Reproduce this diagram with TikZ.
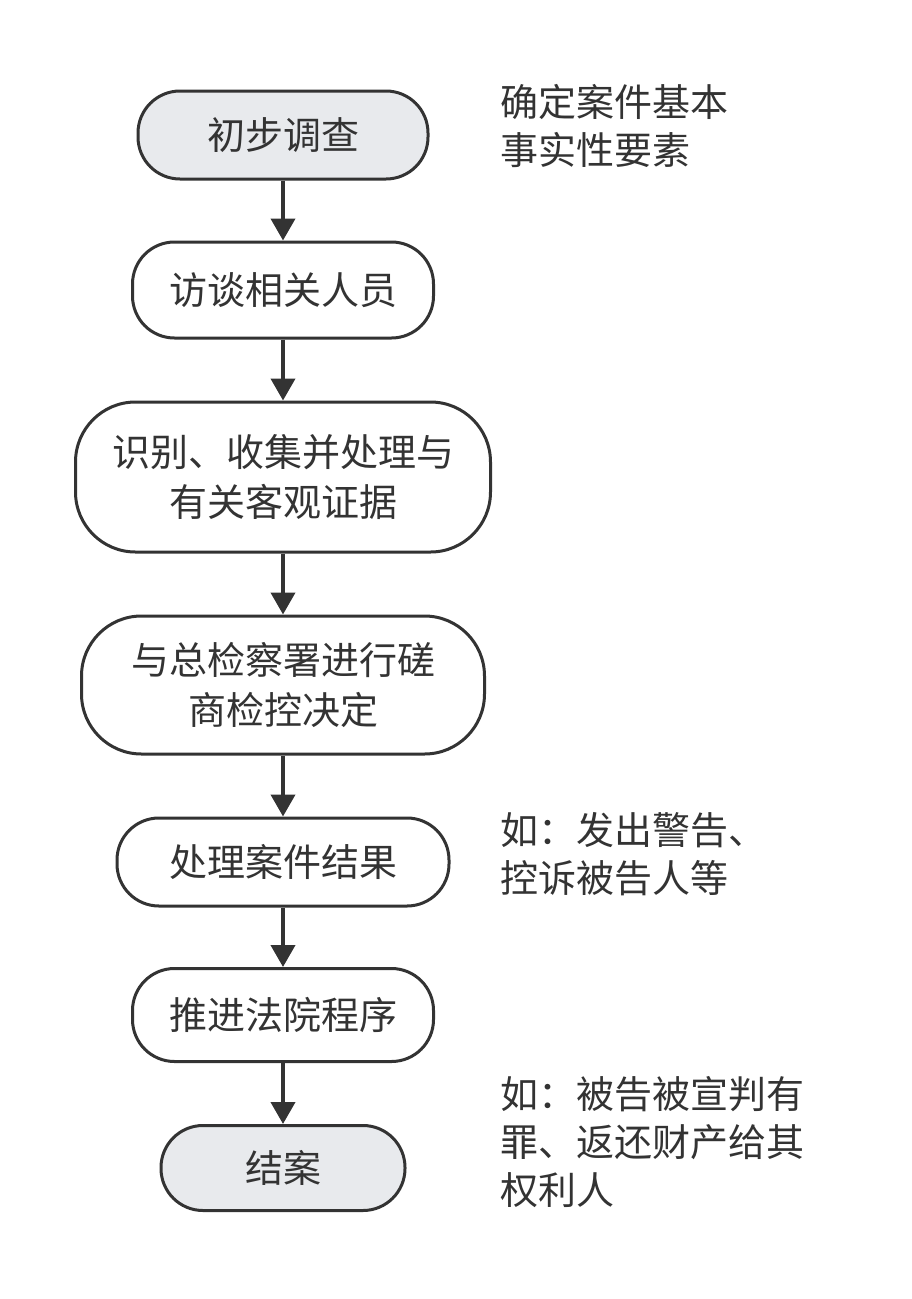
\documentclass[tikz,border=0pt]{standalone}
\usepackage{fontspec}
\setmainfont{Noto Sans CJK SC}
\usetikzlibrary{arrows.meta}
\definecolor{dk}{HTML}{333333}
\definecolor{gr}{HTML}{E8EAED}
\begin{document}
\begin{tikzpicture}[x=1pt,y=-1pt,
  box/.style={draw=dk,line width=3pt,rounded corners=42pt,fill=white,align=center,font=\fontsize{38}{50}\selectfont,text=dk,inner sep=0pt},
  note/.style={anchor=north west,align=left,font=\fontsize{38}{48}\selectfont,text=dk,inner sep=0pt},
  arr/.style={draw=dk,line width=4pt,-{Triangle[length=22pt,width=24pt]}}]
\useasboundingbox (0,0) rectangle (912,1299);
\node[box,fill=gr,minimum width=290pt,minimum height=88pt] (a) at (283,135) {初步调查};
\node[box,minimum width=301pt,minimum height=96pt] (b) at (283,290) {访谈相关人员};
\node[box,minimum width=415pt,minimum height=150pt,rounded corners=60pt] (c) at (283,477) {识别、收集并处理与\\有关客观证据};
\node[box,minimum width=403pt,minimum height=138pt,rounded corners=60pt] (d) at (283,685) {与总检察署进行磋\\商检控决定};
\node[box,minimum width=332pt,minimum height=88pt] (e) at (283,862) {处理案件结果};
\node[box,minimum width=301pt,minimum height=93pt] (f) at (283,1015) {推进法院程序};
\node[box,fill=gr,minimum width=244pt,minimum height=85pt] (g) at (283,1168) {结案};
\draw[arr] (a) -- (b);
\draw[arr] (b) -- (c);
\draw[arr] (c) -- (d);
\draw[arr] (d) -- (e);
\draw[arr] (e) -- (f);
\draw[arr] (f) -- (g);
\node[note] (n1) at (500,84) {确定案件基本\\事实性要素};
\node[note] (n2) at (500,812) {如：发出警告、\\控诉被告人等};
\node[note] (n3) at (500,1076) {如：被告被宣判有\\罪、返还财产给其\\权利人};
\end{tikzpicture}
\end{document}
